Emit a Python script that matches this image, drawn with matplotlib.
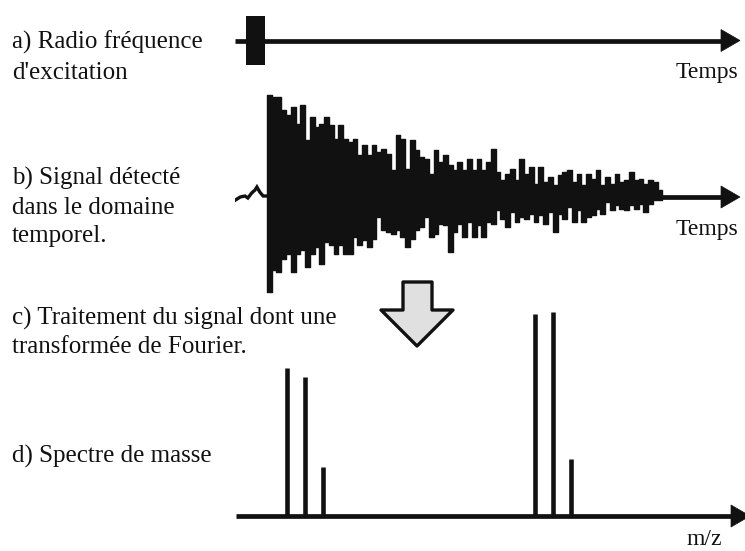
import numpy as np
import matplotlib
matplotlib.use("Agg")
import matplotlib.pyplot as plt
from matplotlib.patches import Polygon

W, H = 745, 551
INK = "#111111"
FONT = ["Liberation Serif", "DejaVu Serif"]

# ---------------- data ----------------
# a) excitation pulse (time units; signal starts at t = 0, one unit per step)
time_range = (-6.7, 99.3)
pulse_start, pulse_end = -4.4, -0.4
pulse_amplitude = 24.5

# b) detected transient: upper / lower envelope of each time step
signal_upper = [102, 100, 100, 87, 82, 90, 73, 92, 57, 80,
                70, 73, 80, 72, 58, 72, 58, 55, 58, 42,
                52, 42, 52, 45, 48, 43, 27, 62, 58, 28,
                57, 47, 40, 38, 23, 47, 35, 42, 32, 27,
                35, 27, 38, 27, 38, 27, 35, 48, 25, 17,
                23, 28, 17, 38, 23, 30, 13, 30, 15, 20,
                12, 22, 25, 27, 15, 23, 12, 23, 18, 27,
                12, 20, 13, 23, 15, 17, 25, 17, 18, 13,
                17, 15, 7]
signal_lower = [95, 73, 75, 62, 57, 75, 57, 53, 70, 57,
                50, 67, 45, 48, 57, 48, 57, 57, 40, 48,
                43, 50, 42, 20, 33, 35, 37, 33, 40, 50,
                42, 33, 30, 20, 40, 37, 27, 28, 55, 35,
                27, 40, 25, 40, 28, 40, 25, 27, 13, 22,
                30, 15, 25, 20, 22, 17, 25, 18, 27, 15,
                35, 17, 22, 10, 25, 13, 25, 20, 18, 12,
                17, 5, 13, 8, 12, 13, 8, 12, 7, 15,
                7, 3, 3]
# noise before the signal
noise_t = [-6.6, -5.6, -4.6, -4.0, -3.2, -2.5, -2.1, -1.5, -0.8, 0.0]
noise_y = [-3, 0, 1, -1, 4, 7, 10, 5, 1, 1]

# d) mass spectrum
peak_mz = [10.0, 13.55, 17.1, 58.7, 62.25, 65.8]
peak_intensity = [72.5, 68, 24, 99, 100, 28]

labels = [
    ("a) Radio fréquence", 49), ("d'excitation", 79),
    ("b) Signal détecté", 185), ("dans le domaine", 214), ("temporel.", 242),
    ("c) Traitement du signal dont une", 325), ("transformée de Fourier.", 353),
    ("d) Spectre de masse", 463),
]

# ---------------- figure ----------------
fig = plt.figure(figsize=(W / 100, H / 100), dpi=100)
fig.patch.set_facecolor("white")

ov = fig.add_axes([0, 0, 1, 1])
ov.set_xlim(0, W)
ov.set_ylim(H, 0)
ov.axis("off")


def px_axes(x0, y0, x1, y1):
    a = fig.add_axes([x0 / W, 1 - y1 / H, (x1 - x0) / W, (y1 - y0) / H])
    a.axis("off")
    a.patch.set_alpha(0)
    return a


LW = 3.4  # pt


def axis_arrow(x0, x1, y, tip):
    ov.plot([x0, x1], [y, y], color=INK, lw=LW, solid_capstyle="butt", zorder=3)
    ov.add_patch(Polygon([(tip - 19, y - 11), (tip, y), (tip - 19, y + 11)],
                         closed=True, facecolor=INK, edgecolor=INK, lw=0.5, zorder=3))

# a) time axis + pulse
axis_arrow(235, 725, 40.5, 740)
ax_a = px_axes(235, 10, 740, 70)
ax_a.set_xlim(*time_range)
ax_a.set_ylim(-30, 30)
ax_a.fill_between([pulse_start, pulse_end], -pulse_amplitude, pulse_amplitude,
                  color=INK, lw=0)

# b) transient
axis_arrow(267, 725, 197, 740)
ax_b = px_axes(235, 87, 740, 307)
ax_b.set_xlim(*time_range)
ax_b.set_ylim(-110, 110)
n = len(signal_upper)
t_edges = np.arange(n + 1)
up = np.append(signal_upper, signal_upper[-1])
lo = -np.append(signal_lower, signal_lower[-1])
ax_b.fill_between(t_edges, lo, up, step="post", color=INK, lw=1.0, edgecolor=INK)
ax_b.plot(noise_t, noise_y, color=INK, lw=2.4, solid_joinstyle="miter")

# d) spectrum
axis_arrow(236, 735, 516, 750)
ax_d = px_axes(236, 312, 745, 516)
ax_d.set_xlim(0, 100)
ax_d.set_ylim(0, 100)
ax_d.vlines(peak_mz, 0, peak_intensity, color=INK, lw=3.3, clip_on=False)

# c) hollow arrow
ov.add_patch(Polygon([(403, 282), (432, 282), (432, 310), (453, 310), (417, 346),
                      (381, 310), (403, 310)], closed=True, facecolor="#e0e0e0",
                     edgecolor=INK, lw=2.4, joinstyle="round", zorder=4))

# texts
for txt, yb in labels:
    ov.text(12, yb, txt, fontsize=18, family=FONT, color=INK, va="baseline", ha="left")
ov.text(738, 78, "Temps", fontsize=17, family=FONT, color=INK, va="baseline", ha="right")
ov.text(738, 235, "Temps", fontsize=17, family=FONT, color=INK, va="baseline", ha="right")
ov.text(722, 545, "m/z", fontsize=17, family=FONT, color=INK, va="baseline", ha="right")

fig.savefig("out.png", dpi=100, facecolor="white")
